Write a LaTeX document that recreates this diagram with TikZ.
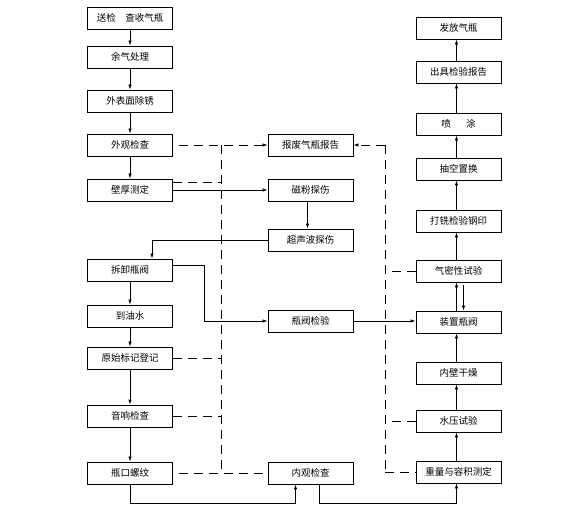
\documentclass[tikz,border=0pt]{standalone}
\usepackage{fontspec}
\newfontfamily\cjk{Noto Sans CJK SC}
\usetikzlibrary{arrows.meta}
\tikzset{
  box/.style={draw,line width=0.9pt,minimum width=85pt,minimum height=22pt,inner sep=1pt,font=\cjk\fontsize{9.5}{11}\selectfont},
  arr/.style={line width=0.8pt,-{Latex[length=5pt,width=3.5pt]}},
  dashline/.style={line width=0.8pt,dash pattern=on 9pt off 6pt}
}
\begin{document}
\begin{tikzpicture}[x=1pt,y=-1pt]
\useasboundingbox (0,0) rectangle (584,516);
\node[box] (sj) at (130,18) {送检　查收气瓶};
\node[box] (yq) at (130,57) {余气处理};
\node[box] (wbm) at (130,101) {外表面除锈};
\node[box] (wgjc) at (130,145) {外观检查};
\node[box] (bhcd) at (130,190) {壁厚测定};
\node[box] (cxfa) at (130,270) {拆卸瓶阀};
\node[box] (dys) at (130,316) {到油水};
\node[box] (ysbj) at (130,358) {原始标记登记};
\node[box] (yxjc) at (130,416) {音响检查};
\node[box] (pkl) at (130,473) {瓶口螺纹};
\node[box] (bf) at (310.5,145) {报废气瓶报告};
\node[box] (cf) at (310.5,190) {磁粉探伤};
\node[box] (csb) at (310.5,240) {超声波探伤};
\node[box] (fjjy) at (310.5,321) {瓶阀检验};
\node[box] (ngjc) at (310.5,473) {内观检查};
\node[box] (ff) at (458.5,28) {发放气瓶};
\node[box] (cjbg) at (458.5,72) {出具检验报告};
\node[box] (pt) at (458.5,124) {喷\hspace{1.6em}涂};
\node[box] (ckzh) at (458.5,169) {抽空置换};
\node[box] (dx) at (458.5,221) {打铣检验钢印};
\node[box] (qmx) at (458.5,271) {气密性试验};
\node[box] (zzfa) at (458.5,322) {装置瓶阀};
\node[box] (nbgz) at (458.5,373) {内壁干燥};
\node[box] (sy) at (458.5,421) {水压试验};
\node[box] (zl) at (458.5,472) {重量与容积测定};
\coordinate (dl1) at (221,145);
\coordinate (dl2) at (221,473);
\coordinate (dr1) at (385,145);
\coordinate (dr2) at (385,472);
\draw[arr] (sj) -- (yq);
\draw[arr] (yq) -- (wbm);
\draw[arr] (wbm) -- (wgjc);
\draw[arr] (wgjc) -- (bhcd);
\draw[arr] (cxfa) -- (dys);
\draw[arr] (dys) -- (ysbj);
\draw[arr] (ysbj) -- (yxjc);
\draw[arr] (yxjc) -- (pkl);
\draw[arr] (bhcd.east) -- (cf.west);
\draw[arr] ([xshift=-3pt]cf.south) -- ([xshift=-3pt]csb.north);
\draw[arr] (csb.west) -| ([xshift=22pt]cxfa.north);
\draw[arr] ([yshift=5pt]cxfa.east) -- ++(31,0) |- (fjjy.west);
\draw[arr] (fjjy.east) -- (fjjy.east -| zzfa.west);
\draw[arr] (pkl.south) -- ++(0,19) -| ([xshift=-15pt]ngjc.south);
\draw[arr] ([xshift=9pt]ngjc.south) -- ++(0,19) -| ([xshift=-2pt]zl.south);
\draw[arr] ([xshift=-2pt]zl.north) -- ([xshift=-2pt]sy.south);
\draw[arr] ([xshift=-2pt]sy.north) -- ([xshift=-2pt]nbgz.south);
\draw[arr] ([xshift=-2pt]nbgz.north) -- ([xshift=-2pt]zzfa.south);
\draw[arr] ([xshift=-2pt]zzfa.north) -- ([xshift=-2pt]qmx.south);
\draw[arr] ([xshift=5pt,yshift=-3pt]qmx.south) -- ([xshift=5pt]zzfa.north);
\draw[arr] ([xshift=-2pt]qmx.north) -- ([xshift=-2pt]dx.south);
\draw[arr] ([xshift=-2pt]dx.north) -- ([xshift=-2pt]ckzh.south);
\draw[arr] ([xshift=-2pt]ckzh.north) -- ([xshift=-2pt]pt.south);
\draw[arr] ([xshift=-2pt]pt.north) -- ([xshift=-2pt]cjbg.south);
\draw[arr] ([xshift=-2pt]cjbg.north) -- ([xshift=-2pt]ff.south);
\draw[dashline,arr] ([xshift=6pt]wgjc.east) -- (bf.west);
\draw[dashline] (dl1) -- (dl2);
\draw[dashline] ([yshift=8pt]bhcd.east) -- ([yshift=8pt]bhcd.east -| dl1);
\draw[dashline] (ysbj.east) -- (ysbj.east -| dl1);
\draw[dashline] (yxjc.east) -- (yxjc.east -| dl1);
\draw[dashline] ([xshift=6pt]pkl.east) -- (ngjc.west);
\draw[dashline,arr] (dr1) -- (bf.east);
\draw[dashline] (dr1) -- (dr2);
\draw[dashline] (dr2) -- (zl.west);
\draw[dashline] (qmx.west) -- (qmx.west -| dr1);
\draw[dashline] (sy.west) -- (sy.west -| dr1);
\end{tikzpicture}
\end{document}
